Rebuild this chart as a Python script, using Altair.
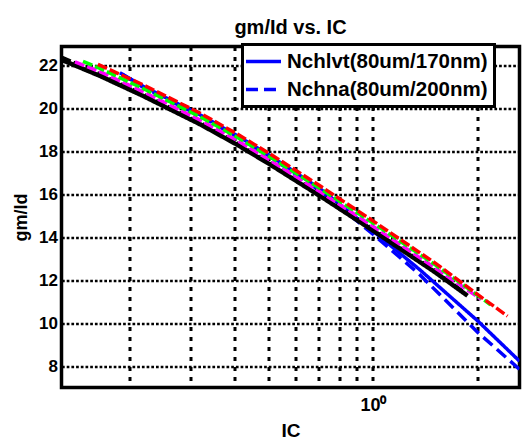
import altair as alt
import pandas as pd

# ---- data ----
ic_black = [0.1277, 0.1646, 0.2186, 0.3185, 0.4066, 0.5055, 0.7081, 1.0, 1.503, 1.868]
gm_black = [22.28, 21.53, 20.60, 19.28, 18.33, 17.41, 15.91, 14.32, 12.39, 11.28]

ic_black2 = [0.1277, 0.1646, 0.2186, 0.3185, 0.4066, 0.5055, 0.7081, 1.0, 1.503, 1.832]
gm_black2 = [22.40, 21.62, 20.68, 19.36, 18.41, 17.49, 15.99, 14.40, 12.46, 11.42]

ic_magenta = [0.1396, 0.1646, 0.2186, 0.3185, 0.4066, 0.5055, 0.7081, 1.0, 1.503, 2.046]
gm_magenta = [22.18, 21.73, 20.80, 19.48, 18.53, 17.61, 16.11, 14.52, 12.59, 11.11]

ic_green = [0.1472, 0.1646, 0.2186, 0.3185, 0.4066, 0.5055, 0.7081, 1.0, 1.503, 2.0, 2.175]
gm_green = [22.21, 21.88, 20.95, 19.63, 18.68, 17.76, 16.26, 14.67, 12.74, 11.29, 10.86]

ic_red = [0.1624, 0.2186, 0.3185, 0.4066, 0.5055, 0.7081, 1.0, 1.503, 2.0, 2.433]
gm_red = [22.07, 21.12, 19.80, 18.83, 17.90, 16.38, 14.77, 12.82, 11.33, 10.33]

ic_lvt = [0.1878, 0.2186, 0.3185, 0.4066, 0.5055, 0.7081, 1.0, 1.361, 2.0, 2.634]
gm_lvt = [21.68, 21.05, 19.72, 18.75, 17.82, 16.25, 14.30, 12.50, 10.10, 8.23]

ic_na = [0.1903, 0.2186, 0.3185, 0.4066, 0.5055, 0.7081, 1.0, 1.361, 2.0, 2.634]
gm_na = [21.62, 21.00, 19.68, 18.70, 17.77, 16.15, 14.15, 12.27, 9.57, 7.85]

name_lvt = "Nchlvt(80um/170nm)"
name_na = "Nchna(80um/200nm)"

x_ticks = [0.2, 0.3, 0.4, 0.5, 0.6, 0.7, 0.8, 0.9, 1, 2]
y_ticks = [8, 10, 12, 14, 16, 18, 20, 22]

rows = []
for name, ics, gms in [
    ("black", ic_black, gm_black),
    ("black2", ic_black2, gm_black2),
    ("magenta", ic_magenta, gm_magenta),
    ("green", ic_green, gm_green),
    ("red", ic_red, gm_red),
    (name_lvt, ic_lvt, gm_lvt),
    (name_na, ic_na, gm_na),
]:
    for a, b in zip(ics, gms):
        rows.append({"series": name, "IC": a, "gm": b})
df = pd.DataFrame(rows)

FONT = "Liberation Sans"

x_enc = alt.X(
    "IC:Q",
    scale=alt.Scale(type="log", domain=[0.1277, 2.634], nice=False),
    axis=alt.Axis(
        values=x_ticks,
        labelExpr="datum.value == 1 ? '10\u2070' : ''",
        grid=True, gridDash=[4, 6], gridWidth=3,
        labelFontSize=18, labelPadding=9,
        title="IC", titleFontSize=19, titlePadding=7,
    ),
)
y_enc = alt.Y(
    "gm:Q",
    scale=alt.Scale(domain=[7, 22.9], nice=False, zero=False),
    axis=alt.Axis(
        values=y_ticks,
        grid=True, gridDash=[2.7, 2], gridWidth=2.5,
        labelFontSize=17, labelPadding=4,
        title="gm/Id", titleFontSize=18, titlePadding=8,
    ),
)

base = alt.Chart(df)

blue = base.transform_filter(
    alt.FieldOneOfPredicate(field="series", oneOf=[name_lvt, name_na])
).mark_line(color="#0000ff", strokeWidth=3.5, clip=True).encode(
    x=x_enc, y=y_enc,
    strokeDash=alt.StrokeDash(
        "series:N",
        scale=alt.Scale(domain=[name_lvt, name_na], range=[[1, 0], [12, 6]]),
        legend=alt.Legend(title=None),
    ),
)


def layer(name, color, width, dash):
    return base.transform_filter(alt.datum.series == name).mark_line(
        color=color, strokeWidth=width, strokeDash=dash, clip=True
    ).encode(x=x_enc, y=y_enc)


black = layer("black", "black", 4.5, [1, 0])
black2 = layer("black2", "black", 3.5, [10, 3])
magenta = layer("magenta", "#ff00ff", 3.5, [10, 3])
green = layer("green", "#00ff00", 3.5, [10, 3])
red = layer("red", "#ff0000", 3.5, [10, 3])

chart = alt.layer(blue, black, black2, magenta, green, red).properties(
    width=458,
    height=341,
    title="gm/Id vs. IC",
    autosize=alt.AutoSizeParams(type="none"),
    padding={"left": 53.5, "top": 38.5, "right": 4, "bottom": 53},
).configure_view(
    stroke="black", strokeWidth=3.5
).configure_axis(
    labelFont=FONT, labelFontWeight="bold", labelColor="black",
    titleFont=FONT, titleFontWeight="bold", titleColor="black",
    gridColor="black", gridOpacity=1, ticks=False, domain=False,
).configure_title(
    font=FONT, fontSize=20, fontWeight="bold", color="black", offset=5, anchor="middle"
).configure_legend(
    orient="none", legendX=181, legendY=-2,
    fillColor="white", strokeColor="black", strokeWidth=3, padding=6.5,
    labelFont=FONT, labelFontSize=20.5, labelFontWeight="bold", labelColor="black",
    labelOffset=13, labelLimit=0, rowPadding=7,
    symbolType="M-2.06,0H2.06", symbolSize=289, symbolStrokeWidth=3.5,
    symbolOffset=4, symbolStrokeColor="#0000ff",
)

chart.save("out.html", embed_options={"renderer": "svg", "actions": False})
